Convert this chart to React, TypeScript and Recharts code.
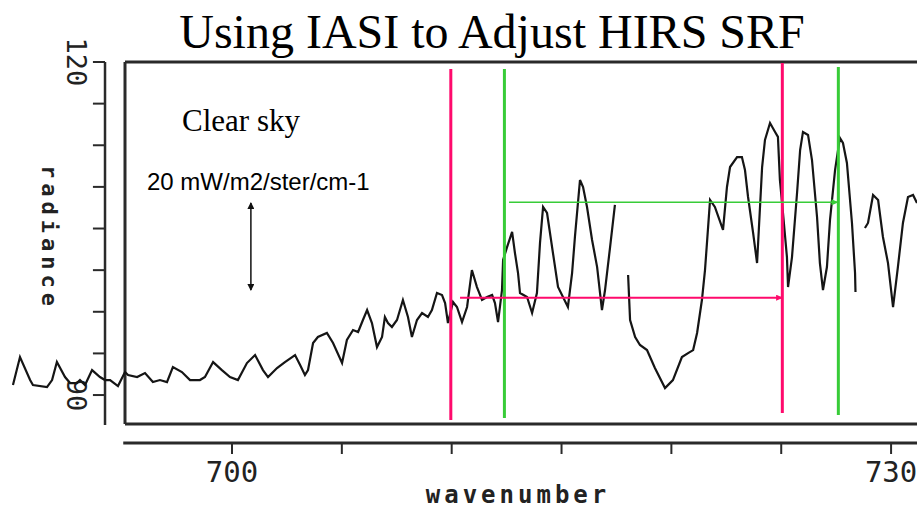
import React from 'react';
import { ComposedChart, Line, XAxis, YAxis, ReferenceLine } from 'recharts';

// spectrum, null marks the breaks in the trace
const wavenumber = [
  690.03, 690.35, 690.81, 690.94, 691.58, 691.81, 692.03, 692.4, 692.63, 692.94,
  693.08, 693.31, 693.63, 693.99, 694.22, 694.45, 694.81, 695.13, 695.27, 695.68,
  696.04, 696.4, 696.72, 697.04, 697.31, 697.72, 698.09, 698.54, 698.77, 699.14,
  699.54, 699.91, 700.27, 700.68, 701.05, 701.41, 701.64, 702.05, 702.41, 702.87,
  703.1, 703.32, 703.46, 703.69, 703.91, 704.32, 704.6, 705.01, 705.23, 705.51,
  705.74, 705.96, 706.15, 706.37, 706.6, 706.83, 706.96, 707.1, 707.28, 707.51,
  707.78, 708.01, 708.19, 708.42, 708.65, 708.92, 709.1, 709.33, 709.56, 709.7,
  709.83, 710.06, 710.24, 710.47, 710.7, 710.92, 711.15, 711.38, 711.61, 711.84,
  711.97, 712.11, 712.29, 712.34, 712.52, 712.75, 712.88, 713.02, 713.11, 713.43,
  713.66, 713.88, 714.02, 714.16, 714.34, 714.61, 714.84, 715.29, 715.48, 715.61,
  715.84, 715.98, 716.16, 716.39, 716.62, 716.84, 716.98, 717.21, 717.43,
  717.7,
  718.03, 718.12, 718.35, 718.57, 718.89, 719.25, 719.71, 720.07, 720.48, 720.76, 720.99,
  721.17, 721.39, 721.53, 721.62, 721.76, 721.98, 722.35, 722.53, 722.67, 722.99,
  723.21, 723.35, 723.49, 723.72, 723.9, 724.13, 724.26, 724.49, 724.72, 724.85,
  724.94, 725.08, 725.26, 725.31, 725.49, 725.72, 725.86, 725.99, 726.22, 726.4,
  726.63, 726.76, 726.9, 727.08, 727.22, 727.45, 727.67, 727.81, 727.99, 728.22, 728.36, 728.38,
  728.6,
  728.81, 728.95, 729.18, 729.41, 729.63, 729.86, 730.09, 730.31, 730.54, 730.77, 731.0, 731.18,
];

const radiance = [
  90.9, 93.42, 91.35, 90.9, 90.72, 91.35, 92.97, 91.62, 91.08, 91.08,
  91.35, 90.9, 92.25, 91.62, 91.35, 91.35, 90.81, 92.07, 91.8, 91.62,
  91.98, 91.17, 91.35, 91.17, 92.52, 92.07, 91.35, 91.35, 91.62, 92.97,
  92.25, 91.62, 91.35, 92.88, 93.6, 92.25, 91.62, 92.43, 92.97, 93.6,
  92.7, 91.8, 92.25, 94.69, 95.23, 95.59, 94.69, 92.88, 94.96, 95.86,
  95.68, 96.76, 97.66, 96.49, 94.32, 95.23, 97.03, 96.49, 96.13, 96.76,
  98.56, 97.03, 95.23, 96.76, 97.39, 97.03, 97.66, 99.19, 99.01, 98.29,
  96.49, 98.38, 97.93, 96.58, 97.93, 101.26, 99.73, 98.56, 98.83, 99.01,
  98.29, 96.58, 99.46, 102.16, 103.33, 104.69, 102.79, 100.99, 99.19, 98.83,
  97.39, 99.19, 103.7, 106.94, 106.4, 102.79, 99.73, 97.93, 100.99, 104.24,
  109.37, 108.74, 106.94, 103.97, 101.53, 97.66, 99.46, 103.33, 107.12,
  null,
  100.81, 96.76, 95.23, 94.51, 94.05, 92.43, 90.63, 91.35, 93.42, 93.78, 94.05,
  95.59, 98.56, 101.26, 103.7, 107.57, 106.94, 104.87, 108.74, 110.54, 111.44,
  111.44, 110.27, 107.84, 104.6, 101.89, 110.54, 112.98, 114.51, 113.7, 113.25,
  109.37, 106.4, 102.43, 99.73, 102.43, 108.2, 112.07, 113.7, 113.43, 111.17,
  106.04, 101.89, 99.46, 101.53, 105.77, 110.27, 113.16, 112.71, 110.9, 105.5, 100.99, 99.28,
  null,
  105.05, 105.5, 108.02, 107.57, 104.24, 101.89, 97.93, 101.53, 105.5, 107.84, 108.02, 107.3,
];

const xTicks = [700, 705, 710, 715, 720, 725, 730];
const xTickLabels = ['700', '', '', '', '', '', '730'];
const yTicks = [120, 116.25, 112.5, 108.75, 105, 101.25, 97.5, 93.75, 90];
const yTickLabels = ['120', '', '', '', '', '', '', '', '90'];

// HIRS band edges (magenta) and IASI-adjusted edges (green)
const hirsEdges = [709.96, 725.05];
const hirsTop = [119.37, 119.91];
const hirsBottom = [87.75, 88.38];
const iasiEdges = [712.4, 727.6];
const iasiTop = [119.37, 119.55];
const iasiBottom = [87.93, 88.2];

// shift arrows
const hirsShift = [710.38, 725.04];
const hirsShiftLevel = 98.77;
const iasiShift = [712.61, 727.56];
const iasiShiftLevel = 107.36;

// 20 mW scale bar
const scaleBarAt = 700.86;
const scaleBar = [99.46, 107.3];

const X_MIN = 689.44;
const X_MAX = 731.18;
const Y_MIN = 85.68;
const Y_MAX = 120;
const FRAME_LEFT = 695.13;
const FRAME_BOTTOM = 87.39;
const Y_AXIS_AT = 694.22;
const Y_AXIS_BOTTOM = 87.3;
const Y_TICK_END = 693.67;
const X_AXIS_START = 695.05;

const INK = '#2a2a2a';
const PINK = '#ff0a6c';
const GREEN = '#38cc38';
const MONO = '"DejaVu Sans Mono", monospace';

const data = wavenumber.map((wn, i) => ({ wn, rad: radiance[i] }));

const arrowShape = (color: string, width: number, end: string, start?: string) => (p: any) => (
  <line
    x1={p.x1}
    y1={p.y1}
    x2={p.x2}
    y2={p.y2}
    stroke={color}
    strokeWidth={width}
    markerEnd={`url(#${end})`}
    markerStart={start ? `url(#${start})` : undefined}
  />
);

const yTickShape = (label: string) => (p: any) => {
  const cx = p.x1 - 16;
  return (
    <g>
      <line x1={p.x1} y1={p.y1} x2={p.x2} y2={p.y2} stroke={INK} strokeWidth={2} />
      {label ? (
        <text
          x={cx}
          y={p.y1}
          transform={`rotate(90 ${cx} ${p.y1})`}
          textAnchor="middle"
          dominantBaseline="central"
          fontFamily={MONO}
          fontSize={27}
          fill="#222"
        >
          {label}
        </text>
      ) : null}
    </g>
  );
};

export default function App() {
  return (
    <div style={{ position: 'absolute', left: 0, top: 0, width: 917, height: 508, background: '#fff', overflow: 'hidden' }}>
      <ComposedChart
        width={917}
        height={508}
        data={data}
        margin={{ top: 62, right: 0, bottom: 3, left: 0 }}
      >
        <defs>
          <marker id="headPink" markerWidth="7" markerHeight="6" refX="6" refY="3" orient="auto" markerUnits="userSpaceOnUse">
            <path d="M0,0 L7,3 L0,6 z" fill={PINK} />
          </marker>
          <marker id="headGreen" markerWidth="7" markerHeight="6" refX="6" refY="3" orient="auto" markerUnits="userSpaceOnUse">
            <path d="M0,0 L7,3 L0,6 z" fill={GREEN} />
          </marker>
          <marker id="headInk" markerWidth="7" markerHeight="7" refX="6" refY="3.5" orient="auto-start-reverse" markerUnits="userSpaceOnUse">
            <path d="M0,0 L7,3.5 L0,7 z" fill="#111" />
          </marker>
        </defs>
        <XAxis
          type="number"
          dataKey="wn"
          domain={[X_MIN, X_MAX]}
          allowDataOverflow
          ticks={xTicks}
          interval={0}
          tickFormatter={(v: number) => xTickLabels[xTicks.indexOf(v)] ?? ''}
          axisLine={false}
          tickLine={{ stroke: INK, strokeWidth: 2 }}
          tickSize={11}
          tickMargin={7}
          height={62}
          tick={{ fontFamily: MONO, fontSize: 29, fill: '#222' }}
        />
        <YAxis type="number" domain={[Y_MIN, Y_MAX]} allowDataOverflow hide />

        {/* frame around the plot */}
        <ReferenceLine segment={[{ x: FRAME_LEFT, y: Y_MAX }, { x: X_MAX, y: Y_MAX }]} stroke={INK} strokeWidth={3} />
        <ReferenceLine segment={[{ x: FRAME_LEFT, y: Y_MAX }, { x: FRAME_LEFT, y: FRAME_BOTTOM }]} stroke={INK} strokeWidth={3} />
        <ReferenceLine segment={[{ x: FRAME_LEFT, y: FRAME_BOTTOM }, { x: X_MAX, y: FRAME_BOTTOM }]} stroke={INK} strokeWidth={3} />

        {/* detached axes */}
        <ReferenceLine segment={[{ x: X_AXIS_START, y: Y_MIN }, { x: X_MAX, y: Y_MIN }]} stroke={INK} strokeWidth={3} />
        <ReferenceLine segment={[{ x: Y_AXIS_AT, y: Y_MAX }, { x: Y_AXIS_AT, y: Y_AXIS_BOTTOM }]} stroke={INK} strokeWidth={2.5} />
        {yTicks.map((v, i) => (
          <ReferenceLine
            key={`yt${i}`}
            segment={[{ x: Y_TICK_END, y: v }, { x: Y_AXIS_AT, y: v }]}
            shape={yTickShape(yTickLabels[i])}
          />
        ))}

        <Line
          type="linear"
          dataKey="rad"
          stroke="#151515"
          strokeWidth={2.2}
          dot={false}
          activeDot={false}
          isAnimationActive={false}
        />

        {hirsEdges.map((wn, i) => (
          <ReferenceLine
            key={`h${i}`}
            segment={[{ x: wn, y: hirsTop[i] }, { x: wn, y: hirsBottom[i] }]}
            stroke={PINK}
            strokeWidth={3}
          />
        ))}
        {iasiEdges.map((wn, i) => (
          <ReferenceLine
            key={`g${i}`}
            segment={[{ x: wn, y: iasiTop[i] }, { x: wn, y: iasiBottom[i] }]}
            stroke={GREEN}
            strokeWidth={3}
          />
        ))}
        <ReferenceLine
          segment={[{ x: hirsShift[0], y: hirsShiftLevel }, { x: hirsShift[1], y: hirsShiftLevel }]}
          shape={arrowShape(PINK, 2, 'headPink')}
        />
        <ReferenceLine
          segment={[{ x: iasiShift[0], y: iasiShiftLevel }, { x: iasiShift[1], y: iasiShiftLevel }]}
          shape={arrowShape(GREEN, 1.6, 'headGreen')}
        />
        <ReferenceLine
          segment={[{ x: scaleBarAt, y: scaleBar[0] }, { x: scaleBarAt, y: scaleBar[1] }]}
          shape={arrowShape('#111', 1.5, 'headInk', 'headInk')}
        />
      </ComposedChart>

      <div
        style={{
          position: 'absolute', left: 492, top: 8, transform: 'translateX(-50%)',
          fontFamily: '"Liberation Serif", serif', fontSize: 48, lineHeight: 1, whiteSpace: 'nowrap', color: '#000',
        }}
      >
        Using IASI to Adjust HIRS SRF
      </div>
      <div
        style={{
          position: 'absolute', left: 182, top: 105,
          fontFamily: '"Liberation Serif", serif', fontSize: 31, lineHeight: 1, whiteSpace: 'nowrap', color: '#000',
        }}
      >
        Clear sky
      </div>
      <div
        style={{
          position: 'absolute', left: 147, top: 170,
          fontFamily: '"Liberation Sans", Arial, sans-serif', fontSize: 24, lineHeight: 1, whiteSpace: 'nowrap', color: '#000',
        }}
      >
        20 mW/m2/ster/cm-1
      </div>
      <div
        style={{
          position: 'absolute', left: 518, top: 485, transform: 'translateX(-50%)',
          fontFamily: MONO, fontSize: 24, fontWeight: 'bold', lineHeight: '20px', letterSpacing: 4, whiteSpace: 'nowrap', color: '#222',
        }}
      >
        wavenumber
      </div>
      <div
        style={{
          position: 'absolute', left: 49, top: 238, transform: 'translate(-50%, -50%) rotate(90deg)',
          fontFamily: MONO, fontSize: 22, fontWeight: 'bold', lineHeight: 1, letterSpacing: 5, whiteSpace: 'nowrap', color: '#222',
        }}
      >
        radiance
      </div>
    </div>
  );
}
